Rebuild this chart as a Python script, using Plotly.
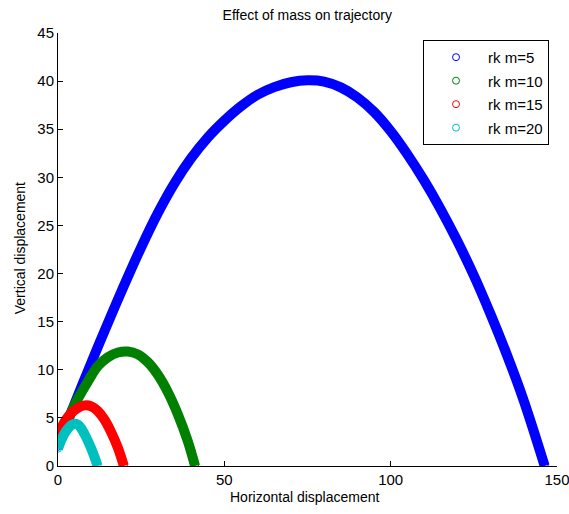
import plotly.graph_objects as go

# ---- data ----
blue_x = [0, 4, 8, 12, 16, 20, 25, 30, 35, 40, 45, 50, 55, 60, 65, 70, 75, 80, 85, 90, 95, 100, 105, 110, 115, 120, 125, 130, 135, 140, 146.3]
blue_y = [2.0, 5.6, 9.04, 12.4, 15.68, 18.88, 22.73, 26.28, 29.38, 31.98, 34.13, 35.88, 37.38, 38.58, 39.38, 39.88, 40.08, 39.95, 39.35, 38.3, 36.8, 34.8, 32.4, 29.7, 26.7, 23.4, 19.8, 15.8, 11.5, 6.8, 0]

green_x = [0, 3, 6, 9, 12, 15, 18, 21, 24, 27, 30, 33, 36, 39, 41.2]
green_y = [2.5, 4.9, 7.0, 8.8, 10.4, 11.3, 11.8, 11.9, 11.6, 10.8, 9.5, 7.7, 5.4, 2.6, 0]

red_x = [0, 2, 4, 6, 8, 10, 12, 14, 16, 18, 19.8]
red_y = [3.2, 4.6, 5.5, 6.05, 6.3, 6.2, 5.7, 4.8, 3.5, 1.9, 0]

cyan_x = [0, 1, 2, 3, 4, 5, 6, 7, 8, 9, 10, 11, 11.9]
cyan_y = [1.8, 2.7, 3.4, 3.9, 4.25, 4.4, 4.3, 3.9, 3.3, 2.6, 1.8, 0.9, 0]

series_names = ["rk m=5", "rk m=10", "rk m=15", "rk m=20"]
series_colors = ["#0000ff", "#008000", "#ff0000", "#00bfbf"]
series_x = [blue_x, green_x, red_x, cyan_x]
series_y = [blue_y, green_y, red_y, cyan_y]

x_ticks = [0, 50, 100, 150]
y_ticks = [0, 5, 10, 15, 20, 25, 30, 35, 40, 45]

FONT = "Liberation Sans, Arial, sans-serif"

fig = go.Figure()
for name, col, xs, ys in zip(series_names, series_colors, series_x, series_y):
    fig.add_trace(go.Scatter(
        x=xs, y=ys, mode="lines", line=dict(color=col, width=10, shape="spline", smoothing=1.0),
        showlegend=False, hoverinfo="skip", legendgroup=name))
    fig.add_trace(go.Scatter(
        x=xs, y=ys, mode="markers", name=name, legendgroup=name,
        marker=dict(symbol="circle-open", size=7, color=col, line=dict(width=1))))

fig.update_layout(
    width=569, height=514,
    margin=dict(l=58, r=12, t=33, b=48),
    paper_bgcolor="white", plot_bgcolor="white",
    font=dict(family=FONT, size=15, color="black"),
    title=dict(text="Effect of mass on trajectory", x=0.54, xanchor="center",
               y=0.97, yanchor="middle", font=dict(size=14, color="black")),
    legend=dict(x=0.984, y=0.984, xanchor="right", yanchor="top",
                bgcolor="white", bordercolor="black", borderwidth=1,
                font=dict(size=15), itemwidth=54, tracegroupgap=1,
                traceorder="grouped"),
    annotations=[
        dict(text="Horizontal displacement", xref="paper", yref="paper",
             x=0.495, y=-0.0716, xanchor="center", yanchor="middle",
             showarrow=False, font=dict(size=14, color="black")),
        dict(text="Vertical displacement", xref="paper", yref="paper",
             x=-0.076, y=0.503, xanchor="center", yanchor="middle", textangle=-90,
             showarrow=False, font=dict(size=14, color="black")),
    ],
)
fig.update_xaxes(range=[0, 150], tickvals=x_ticks, ticks="inside", ticklen=5,
                 showline=True, linecolor="black", linewidth=1, showgrid=False,
                 zeroline=False, tickcolor="black", automargin=False,
                 ticklabeloverflow="allow")
fig.update_yaxes(range=[0, 45], tickvals=y_ticks, ticks="inside", ticklen=5,
                 showline=True, linecolor="black", linewidth=1, showgrid=False,
                 zeroline=False, tickcolor="black", automargin=False,
                 ticklabeloverflow="allow")

fig.write_html("out.html")
